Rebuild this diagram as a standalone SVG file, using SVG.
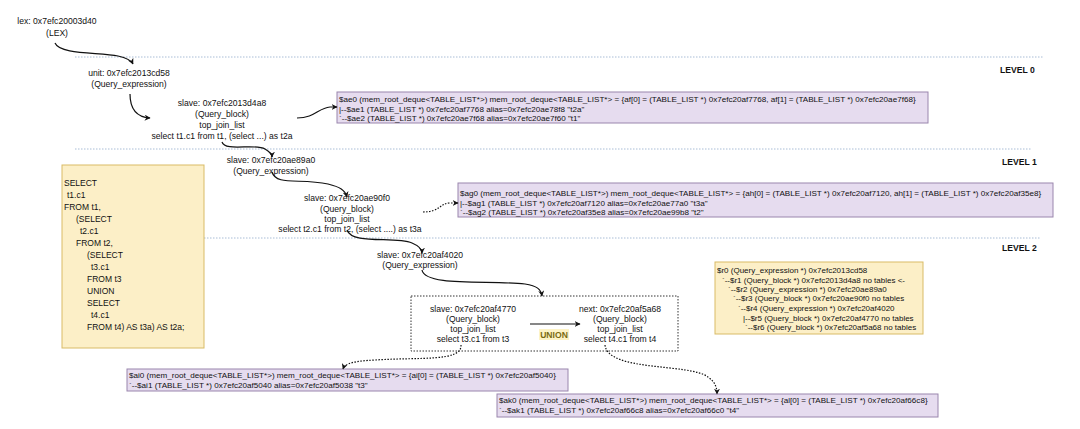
<svg xmlns="http://www.w3.org/2000/svg" width="1080" height="429" viewBox="0 0 1080 429">
<defs>
<marker id="ah" viewBox="0 0 10 10" refX="9" refY="5" markerWidth="6" markerHeight="6" markerUnits="userSpaceOnUse" orient="auto"><path d="M0,0 L10,5 L0,10 L3,5 Z" fill="#111"/></marker>
<style>
text{font-family:"Liberation Sans",Arial,sans-serif;fill:#111}
.n{font-size:8.6px;text-anchor:middle}
.b{font-size:8.1px}
.t{font-size:8px}
.s{font-size:8.5px}
.lv{font-size:8.6px;font-weight:bold}
.lvl{stroke:#a9bdd6;stroke-width:1;stroke-dasharray:1.5 1.5;fill:none}
.c{fill:none;stroke:#111;stroke-width:1.2;marker-end:url(#ah)}
.d{stroke-dasharray:1.5 1.5}
.pb{fill:#e6dcef;stroke:#9a86ad;stroke-width:1}
.yb{fill:#fcefc7;stroke:#d9bb66;stroke-width:1}
</style>
</defs>
<rect width="1080" height="429" fill="#fff"/>
<g id="levels">
<line class="lvl" x1="75" y1="57" x2="1043" y2="57"/>
<line class="lvl" x1="75" y1="149" x2="1032" y2="149"/>
<line class="lvl" x1="75" y1="238" x2="1040" y2="238"/>
<text class="lv" x="1000" y="73">LEVEL 0</text>
<text class="lv" x="1002" y="165">LEVEL 1</text>
<text class="lv" x="1002" y="251">LEVEL 2</text>
</g>
<g id="sql">
<rect class="yb" x="62" y="165" width="142" height="183"/>
<text class="s" x="64" y="186">SELECT</text>
<text class="s" x="67" y="198">t1.c1</text>
<text class="s" x="64" y="210">FROM t1,</text>
<text class="s" x="76" y="222">(SELECT</text>
<text class="s" x="80" y="234">t2.c1</text>
<text class="s" x="76" y="246">FROM t2,</text>
<text class="s" x="87" y="258">(SELECT</text>
<text class="s" x="91" y="270">t3.c1</text>
<text class="s" x="87" y="282">FROM t3</text>
<text class="s" x="87" y="294">UNION</text>
<text class="s" x="87" y="306">SELECT</text>
<text class="s" x="91" y="318">t4.c1</text>
<text class="s" x="87" y="330">FROM t4) AS t3a) AS t2a;</text>
</g>
<g id="lex">
<text class="n" x="57" y="24">lex: 0x7efc20003d40</text>
<text class="n" x="57" y="36">(LEX)</text>
</g>
<g id="unit">
<text class="n" x="129" y="76">unit: 0x7efc2013cd58</text>
<text class="n" x="129" y="87">(Query_expression)</text>
</g>
<g id="qb1">
<text class="n" x="222" y="106">slave: 0x7efc2013d4a8</text>
<text class="n" x="222" y="117">(Query_block)</text>
<text class="n" x="222" y="128">top_join_list</text>
<text class="n" x="222" y="139">select t1.c1 from t1, (select ...) as t2a</text>
</g>
<g id="ae0">
<rect class="pb" x="337" y="92" width="591" height="31"/>
<text class="b" x="339" y="102">$ae0 (mem_root_deque&lt;TABLE_LIST*&gt;) mem_root_deque&lt;TABLE_LIST*&gt; = {af[0] = (TABLE_LIST *) 0x7efc20af7768, af[1] = (TABLE_LIST *) 0x7efc20ae7f68}</text>
<text class="b" x="339" y="112">|--$ae1 (TABLE_LIST *) 0x7efc20af7768 alias=0x7efc20ae78f8 "t2a"</text>
<text class="b" x="339" y="121">`--$ae2 (TABLE_LIST *) 0x7efc20ae7f68 alias=0x7efc20ae7f60 "t1"</text>
</g>
<g id="qe2">
<text class="n" x="271" y="163">slave: 0x7efc20ae89a0</text>
<text class="n" x="271" y="174">(Query_expression)</text>
</g>
<g id="qb2">
<text class="n" x="347" y="201">slave: 0x7efc20ae90f0</text>
<text class="n" x="347" y="212">(Query_block)</text>
<text class="n" x="347" y="222">top_join_list</text>
<text class="n" x="350" y="232">select t2.c1 from t2, (select ....) as t3a</text>
</g>
<g id="ag0">
<rect class="pb" x="458" y="183" width="595" height="34"/>
<text class="b" x="460" y="196">$ag0 (mem_root_deque&lt;TABLE_LIST*&gt;) mem_root_deque&lt;TABLE_LIST*&gt; = {ah[0] = (TABLE_LIST *) 0x7efc20af7120, ah[1] = (TABLE_LIST *) 0x7efc20af35e8}</text>
<text class="b" x="460" y="206">|--$ag1 (TABLE_LIST *) 0x7efc20af7120 alias=0x7efc20ae77a0 "t3a"</text>
<text class="b" x="460" y="215">`--$ag2 (TABLE_LIST *) 0x7efc20af35e8 alias=0x7efc20ae99b8 "t2"</text>
</g>
<g id="qe3">
<text class="n" x="420" y="258">slave: 0x7efc20af4020</text>
<text class="n" x="420" y="268">(Query_expression)</text>
</g>
<g id="union">
<rect x="411" y="296" width="267" height="55" fill="none" stroke="#333" stroke-width="1" stroke-dasharray="1.5 1.5"/>
<rect x="539" y="329" width="30" height="11" fill="#fdf3c6"/>
<text x="554" y="338" text-anchor="middle" font-size="8.6" font-weight="bold" style="fill:#7a6a10">UNION</text>
</g>
<g id="qb3">
<text class="n" x="473" y="312">slave: 0x7efc20af4770</text>
<text class="n" x="473" y="322">(Query_block)</text>
<text class="n" x="473" y="332">top_join_list</text>
<text class="n" x="473" y="342">select t3.c1 from t3</text>
</g>
<g id="qb4">
<text class="n" x="620" y="312">next: 0x7efc20af5a68</text>
<text class="n" x="620" y="322">(Query_block)</text>
<text class="n" x="620" y="332">top_join_list</text>
<text class="n" x="620" y="342">select t4.c1 from t4</text>
</g>
<g id="tree">
<rect class="yb" x="715" y="262" width="208" height="72"/>
<text class="t" x="717" y="273">$r0 (Query_expression *) 0x7efc2013cd58</text>
<text class="t" x="722" y="283">`--$r1 (Query_block *) 0x7efc2013d4a8 no tables &lt;-</text>
<text class="t" x="728" y="292">`--$r2 (Query_expression *) 0x7efc20ae89a0</text>
<text class="t" x="733" y="301">`--$r3 (Query_block *) 0x7efc20ae90f0 no tables</text>
<text class="t" x="738" y="311">`--$r4 (Query_expression *) 0x7efc20af4020</text>
<text class="t" x="743" y="321">|--$r5 (Query_block *) 0x7efc20af4770 no tables</text>
<text class="t" x="745" y="330">`--$r6 (Query_block *) 0x7efc20af5a68 no tables</text>
</g>
<g id="ai0">
<rect class="pb" x="127" y="369" width="441" height="22"/>
<text class="b" x="129" y="378">$ai0 (mem_root_deque&lt;TABLE_LIST*&gt;) mem_root_deque&lt;TABLE_LIST*&gt; = {ai[0] = (TABLE_LIST *) 0x7efc20af5040}</text>
<text class="b" x="129" y="388">`--$ai1 (TABLE_LIST *) 0x7efc20af5040 alias=0x7efc20af5038 "t3"</text>
</g>
<g id="ak0">
<rect class="pb" x="497" y="394" width="441" height="23"/>
<text class="b" x="499" y="403">$ak0 (mem_root_deque&lt;TABLE_LIST*&gt;) mem_root_deque&lt;TABLE_LIST*&gt; = {al[0] = (TABLE_LIST *) 0x7efc20af66c8}</text>
<text class="b" x="499" y="413">`--$ak1 (TABLE_LIST *) 0x7efc20af66c8 alias=0x7efc20af66c0 "t4"</text>
</g>
<g id="connectors">
<path class="c" d="M55 43 C60 55 100 52 118 56 C127 58 131 60 133 64"/>
<path class="c" d="M130 94 C130 108 135 117 150 118"/>
<path class="c" d="M297 118 C315 118 318 108 330 107 L337 107"/>
<path class="c" d="M222 142 C225 152 255 143 265 149 C270 152 272 154 272 157"/>
<path class="c" d="M272 172 C276 186 300 178 328 184 C340 187 345 190 347 197"/>
<path class="c d" d="M423 212 C440 212 440 203 450 203 L458 203"/>
<path class="c" d="M347 230 C352 245 395 236 412 243 C419 246 422 249 422 253"/>
<path class="c" d="M422 270 C425 287 490 280 525 284 C537 286 541 289 542 296"/>
<path class="c" d="M530 324 L580 324"/>
<path class="c d" d="M461 345 C462 362 420 357 375 360 C355 361 345 363 343 369"/>
<path class="c d" d="M605 345 C608 372 690 363 708 377 C715 382 717 387 717 394"/>
</g>
</svg>
